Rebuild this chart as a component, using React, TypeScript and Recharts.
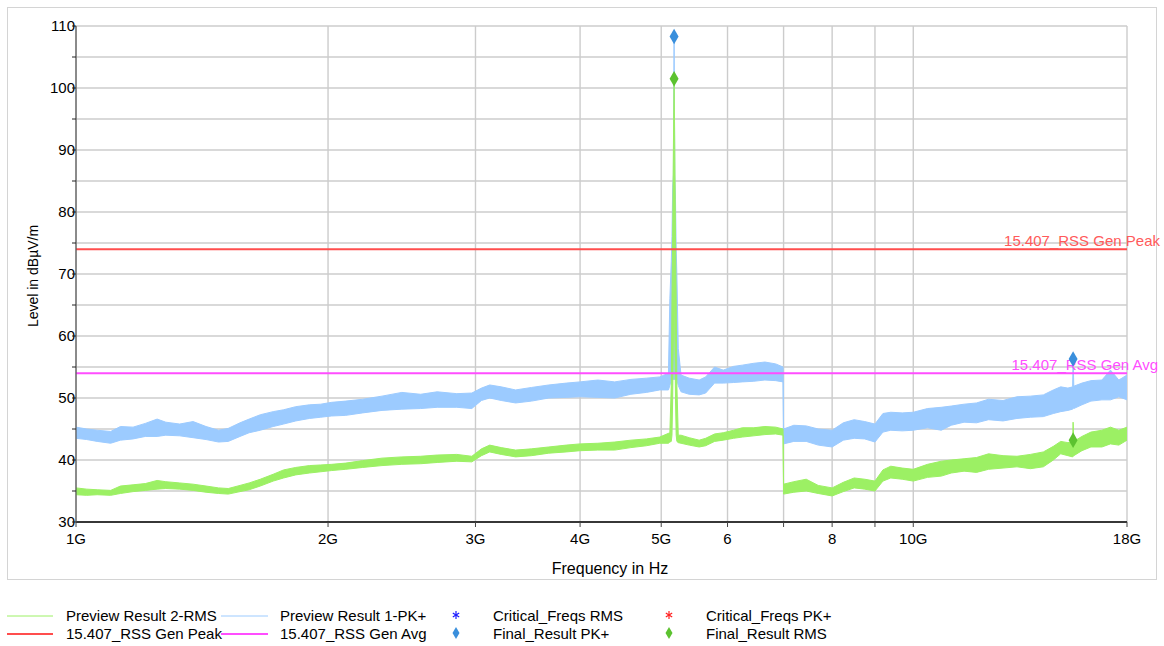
import React from 'react';
import {
  ComposedChart,
  Area,
  Scatter,
  XAxis,
  YAxis,
  ZAxis,
  CartesianGrid,
  ReferenceLine,
} from 'recharts';

// Frequencies in GHz
const freqGHz = [
  1.0, 1.03, 1.06, 1.1, 1.13, 1.17, 1.21, 1.25, 1.28, 1.33, 1.38, 1.43, 1.48, 1.52, 1.57, 1.61, 1.66, 1.72, 1.77,
  1.83, 1.9, 1.96, 2.02, 2.1, 2.2, 2.32, 2.45, 2.58, 2.7, 2.85, 2.97, 3.05, 3.12, 3.22, 3.35, 3.5, 3.67, 3.85, 4.0,
  4.2, 4.4, 4.6, 4.8, 4.98, 5.1, 5.12, 5.14, 5.15, 5.16, 5.17, 5.18, 5.19, 5.2, 5.21, 5.22, 5.24, 5.28, 5.4, 5.55,
  5.65, 5.79, 5.93, 6.1, 6.25, 6.45, 6.65, 6.85, 6.99, 7.0, 7.2, 7.45, 7.7, 8.0, 8.25, 8.5, 8.75, 9.0, 9.2, 9.4, 9.7,
  10.0, 10.4, 10.8, 11.1, 11.5, 11.9, 12.3, 12.8, 13.3, 13.8, 14.3, 14.7, 15.0, 15.3, 15.5, 15.52, 15.55, 15.9, 16.3,
  16.8, 17.2, 17.6, 18.0,
];

// Preview Result 1-PK+ (band low / high, dBµV/m)
const pkLow = [
  43.5, 43.3, 43.0, 42.7, 43.2, 43.4, 43.8, 43.8, 44.0, 43.9, 43.6, 43.3, 42.9, 43.0, 43.8, 44.4, 44.8, 45.4, 45.8,
  46.3, 46.7, 46.9, 47.1, 47.2, 47.6, 48.0, 48.2, 48.3, 48.5, 48.5, 48.3, 49.6, 50.0, 49.6, 49.2, 49.5, 50.0, 50.1, 50.2,
  50.1, 50.0, 50.6, 50.9, 51.3, 51.3, 52.0, 53.0, 53.0, 53.0, 53.0, 53.0, 53.0, 53.0, 53.0, 53.0, 52.0, 51.0, 50.6, 50.5,
  50.8, 52.4, 52.4, 52.5, 52.6, 52.7, 52.9, 52.8, 52.6, 42.6, 43.0, 43.0, 42.4, 42.1, 43.2, 43.5, 43.4, 42.9, 44.5, 44.8,
  44.7, 44.8, 45.2, 44.8, 45.6, 46.1, 46.0, 46.5, 46.3, 46.7, 46.9, 47.0, 47.5, 47.8, 48.0, 48.2, 48.4, 48.3, 48.9, 49.5,
  49.7, 49.7, 50.2, 49.7,
];
const pkHigh = [
  45.3, 45.0, 44.8, 44.6, 45.4, 45.3, 45.9, 46.6, 46.1, 45.8, 46.2, 45.4, 44.8, 45.1, 46.0, 46.6, 47.3, 47.8, 48.1,
  48.6, 48.9, 49.0, 49.3, 49.5, 49.8, 50.3, 50.9, 50.6, 51.0, 50.7, 50.8, 51.6, 52.1, 51.8, 51.3, 51.7, 52.1, 52.4, 52.6,
  52.9, 52.6, 53.0, 53.2, 53.4, 54.0, 66.0, 72.0, 76.0, 84.0, 86.0, 108.3, 86.0, 82.0, 74.0, 70.0, 58.0, 53.7, 53.2, 52.9,
  53.4, 55.0, 54.5, 55.1, 55.3, 55.6, 55.8, 55.5, 55.0, 45.0, 45.6, 45.5, 45.0, 44.8, 46.0, 46.5, 46.2, 45.8, 47.5, 47.7,
  47.6, 47.7, 48.3, 48.5, 48.7, 49.0, 49.2, 49.8, 49.6, 50.2, 50.3, 50.5, 51.3, 51.8, 51.6, 51.8, 56.3, 51.9, 52.4, 52.8,
  52.9, 54.5, 52.9, 53.7,
];

// Preview Result 2-RMS (band low / high, dBµV/m)
const rmsLow = [
  34.4, 34.3, 34.4, 34.3, 34.6, 34.9, 35.1, 35.3, 35.4, 35.3, 35.1, 34.8, 34.6, 34.5, 34.9, 35.2, 35.8, 36.6, 37.1,
  37.6, 37.9, 38.1, 38.3, 38.5, 38.8, 39.1, 39.3, 39.4, 39.6, 39.8, 39.7, 40.7, 41.3, 40.9, 40.5, 40.7, 41.1, 41.3, 41.5,
  41.6, 41.6, 42.0, 42.3, 42.7, 42.7, 42.9, 43.0, 44.0, 50.0, 60.0, 80.0, 60.0, 50.0, 44.0, 43.0, 42.8, 42.7, 42.4, 42.1,
  42.3, 43.0, 43.2, 43.5, 43.7, 43.9, 44.1, 44.2, 44.0, 34.5, 34.8, 35.0, 34.6, 34.2, 34.9, 35.5, 35.3, 35.0, 36.6, 37.1,
  36.9, 36.6, 37.2, 37.4, 37.9, 38.2, 38.0, 38.5, 38.7, 38.9, 38.6, 38.9, 40.0, 41.0, 40.7, 40.5, 40.6, 40.7, 41.5, 42.1,
  42.1, 42.6, 42.4, 43.2,
];
const rmsHigh = [
  35.5, 35.3, 35.2, 35.1, 35.8, 36.0, 36.2, 36.7, 36.5, 36.3, 36.1, 35.8, 35.5, 35.4, 35.9, 36.3, 36.9, 37.7, 38.4,
  38.8, 39.1, 39.2, 39.3, 39.5, 39.9, 40.3, 40.5, 40.6, 40.8, 40.9, 40.6, 41.8, 42.4, 42.0, 41.6, 41.8, 42.1, 42.4, 42.6,
  42.7, 42.9, 43.2, 43.4, 43.7, 44.3, 44.4, 52.0, 66.0, 76.0, 90.0, 101.5, 90.0, 76.0, 66.0, 52.0, 44.0, 44.0, 43.6, 43.2,
  43.5, 44.2, 44.4, 44.8, 45.2, 45.2, 45.4, 45.3, 45.0, 36.1, 36.5, 36.9, 35.9, 35.5, 36.4, 37.1, 36.9, 36.6, 38.4, 39.0,
  38.7, 38.5, 39.3, 39.8, 40.0, 40.2, 40.4, 41.0, 40.7, 40.6, 40.9, 41.3, 42.2, 43.0, 42.8, 42.9, 46.1, 43.0, 43.8, 44.5,
  44.8, 45.3, 44.8, 45.3,
];

// Final result markers
const finalFreqs = [5.18, 15.52];
const finalPk = [108.3, 56.3];
const finalRms = [101.5, 43.2];

// Limits
const limitPeak = 74;
const limitAvg = 54;

// Axis ticks
const xTicks = [1, 2, 3, 4, 5, 6, 7, 8, 9, 10, 18];
const xTickLabels = ['1G', '2G', '3G', '4G', '5G', '6', '', '8', '', '10G', '18G'];
const yTicks = [30, 35, 40, 45, 50, 55, 60, 65, 70, 75, 80, 85, 90, 95, 100, 105, 110];

const FONT = '"Liberation Sans", Arial, sans-serif';

const BLUE = '#9ccbff';
const GREEN = '#9cf064';
const RED = '#ff4d4d';
const MAGENTA = '#ff4dff';
const PK_MARK = '#3a8fdc';
const RMS_MARK = '#5cc230';

const tableData = freqGHz.map((f, i) => ({
  f,
  pk: [pkLow[i], pkHigh[i]],
  rms: [rmsLow[i], rmsHigh[i]],
}));
const pkMarks = finalFreqs.map((f, i) => ({ f, v: finalPk[i] }));
const rmsMarks = finalFreqs.map((f, i) => ({ f, v: finalRms[i] }));

const makeLimitLabel = (text: string, color: string, dx: number) => (props: any) => {
  const vb = props.viewBox || {};
  return (
    <text
      x={(vb.x ?? 0) + (vb.width ?? 0) + dx}
      y={(vb.y ?? 0) - 3}
      textAnchor="end"
      fill={color}
      fontSize={15}
      fontFamily={FONT}
    >
      {text}
    </text>
  );
};

const Star = ({ x, y, color }: { x: number; y: number; color: string }) => (
  <g stroke={color} strokeWidth={1.2}>
    <line x1={x} y1={y - 4} x2={x} y2={y + 4} />
    <line x1={x - 3.2} y1={y - 2} x2={x + 3.2} y2={y + 2} />
    <line x1={x - 3.2} y1={y + 2} x2={x + 3.2} y2={y - 2} />
  </g>
);

const Diamond = ({ x, y, color }: { x: number; y: number; color: string }) => (
  <polygon points={`${x},${y - 6} ${x + 3.5},${y} ${x},${y + 6} ${x - 3.5},${y}`} fill={color} />
);

export default function App() {
  return (
    <div style={{ position: 'absolute', left: 0, top: 0, width: 1164, height: 646, background: '#fff', fontFamily: FONT }}>
      <div
        style={{
          position: 'absolute',
          left: 7,
          top: 7,
          width: 1148,
          height: 571,
          border: '1.5px solid #d4d4d4',
        }}
      />
      <div style={{ position: 'absolute', left: 0, top: 0 }}>
        <ComposedChart
          width={1164}
          height={590}
          data={tableData}
          margin={{ top: 26, right: 37, bottom: 0, left: 0 }}
        >
          <CartesianGrid stroke="#cccccc" strokeWidth={1.4} />
          <XAxis
            dataKey="f"
            type="number"
            scale="log"
            domain={[1, 18]}
            ticks={xTicks}
            interval={0}
            allowDataOverflow
            height={68}
            tickFormatter={(v: number) => xTickLabels[xTicks.indexOf(v)] ?? ''}
            axisLine={{ stroke: '#000', strokeWidth: 1.5 }}
            tickLine={{ stroke: '#444' }}
            tickSize={5}
            tickMargin={6}
            tick={{ fill: '#000', fontSize: 15, fontFamily: FONT }}
          />
          <YAxis
            type="number"
            domain={[30, 110]}
            ticks={yTicks}
            interval={0}
            allowDataOverflow
            width={76}
            tickFormatter={(v: number) => (v % 10 === 0 ? String(v) : '')}
            axisLine={{ stroke: '#555', strokeWidth: 1.2 }}
            tickLine={{ stroke: '#222' }}
            tickSize={4}
            tickMargin={-3}
            tick={{ fill: '#000', fontSize: 15, fontFamily: FONT }}
          />
          <ZAxis range={[70, 70]} />
          <Area
            type="linear"
            dataKey="pk"
            stroke={BLUE}
            strokeWidth={1}
            fill={BLUE}
            fillOpacity={1}
            dot={false}
            activeDot={false}
            isAnimationActive={false}
          />
          <Area
            type="linear"
            dataKey="rms"
            stroke={GREEN}
            strokeWidth={1}
            fill={GREEN}
            fillOpacity={1}
            dot={false}
            activeDot={false}
            isAnimationActive={false}
          />
          <ReferenceLine
            y={limitPeak}
            stroke={RED}
            strokeWidth={2}
            label={makeLimitLabel('15.407_RSS Gen Peak', '#ff5a5a', 33)}
          />
          <ReferenceLine
            y={limitAvg}
            stroke={MAGENTA}
            strokeWidth={2}
            label={makeLimitLabel('15.407_RSS Gen Avg', '#ff4dff', 31)}
          />
          <Scatter data={pkMarks} dataKey="v" fill={PK_MARK} shape="diamond" isAnimationActive={false} />
          <Scatter data={rmsMarks} dataKey="v" fill={RMS_MARK} shape="diamond" isAnimationActive={false} />
        </ComposedChart>
      </div>
      <div
        style={{
          position: 'absolute',
          left: 610,
          top: 559,
          transform: 'translateX(-50%)',
          fontSize: 16,
          color: '#000',
          whiteSpace: 'nowrap',
          lineHeight: '19px',
        }}
      >
        Frequency in Hz
      </div>
      <div
        style={{
          position: 'absolute',
          left: 33,
          top: 276,
          transform: 'translate(-50%, -50%) rotate(-90deg)',
          fontSize: 14,
          color: '#000',
          whiteSpace: 'nowrap',
          lineHeight: '16px',
        }}
      >
        Level in dBµV/m
      </div>
      <svg style={{ position: 'absolute', left: 0, top: 596 }} width={1164} height={50}>
        <g fontFamily={FONT} fontSize={15} fill="#000">
          <line x1={7} y1={20} x2={53} y2={20} stroke={GREEN} strokeWidth={1} />
          <text x={66} y={25}>Preview Result 2-RMS</text>
          <line x1={221} y1={20} x2={268} y2={20} stroke={BLUE} strokeWidth={1} />
          <text x={280} y={25}>Preview Result 1-PK+</text>
          <Star x={456} y={19} color="#1a1aff" />
          <text x={493} y={25}>Critical_Freqs RMS</text>
          <Star x={669} y={19} color="#ff2020" />
          <text x={706} y={25}>Critical_Freqs PK+</text>

          <line x1={7} y1={38} x2={53} y2={38} stroke={RED} strokeWidth={2} />
          <text x={66} y={43}>15.407_RSS Gen Peak</text>
          <line x1={221} y1={38} x2={268} y2={38} stroke={MAGENTA} strokeWidth={2} />
          <text x={280} y={43}>15.407_RSS Gen Avg</text>
          <Diamond x={456} y={37} color={PK_MARK} />
          <text x={493} y={43}>Final_Result PK+</text>
          <Diamond x={669} y={37} color={RMS_MARK} />
          <text x={706} y={43}>Final_Result RMS</text>
        </g>
      </svg>
    </div>
  );
}
